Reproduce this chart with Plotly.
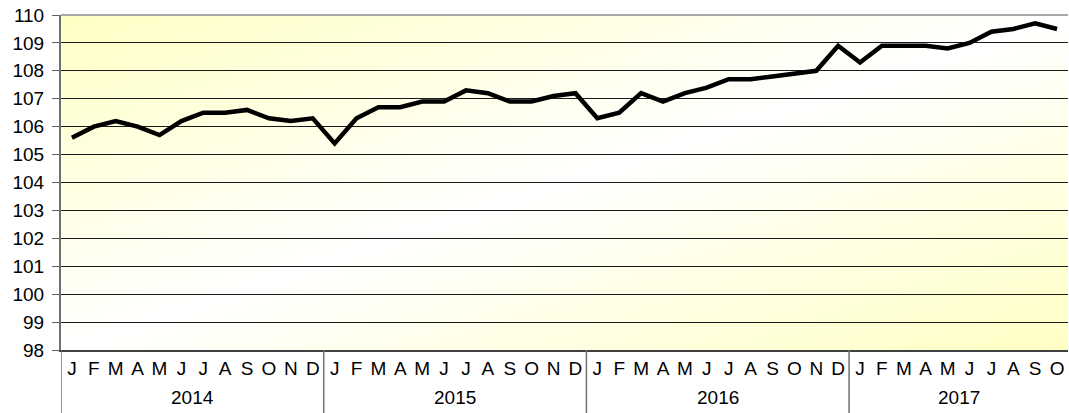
import base64
import plotly.graph_objects as go

years = ["2014", "2015", "2016", "2017"]
months = ["J", "F", "M", "A", "M", "J", "J", "A", "S", "O", "N", "D"]
months_per_year = [12, 12, 12, 10]

values = [
    105.6, 106.0, 106.2, 106.0, 105.7, 106.2, 106.5, 106.5, 106.6, 106.3, 106.2, 106.3,
    105.4, 106.3, 106.7, 106.7, 106.9, 106.9, 107.3, 107.2, 106.9, 106.9, 107.1, 107.2,
    106.3, 106.5, 107.2, 106.9, 107.2, 107.4, 107.7, 107.7, 107.8, 107.9, 108.0, 108.9,
    108.3, 108.9, 108.9, 108.9, 108.8, 109.0, 109.4, 109.5, 109.7, 109.5,
]

month_labels = []
for n in months_per_year:
    month_labels += months[:n]
xs = list(range(len(values)))

FONT = "Liberation Sans, Arial, sans-serif"

# diagonal yellow -> white -> yellow background
svg = ("<svg xmlns='http://www.w3.org/2000/svg' width='1008' height='335' preserveAspectRatio='none'>"
       "<defs><linearGradient id='g' x1='0' y1='0' x2='1' y2='1'>"
       "<stop offset='0' stop-color='#FFFFC4'/><stop offset='0.5' stop-color='#FFFFFF'/>"
       "<stop offset='1' stop-color='#FFFFC4'/></linearGradient></defs>"
       "<rect width='100%' height='100%' fill='url(#g)'/></svg>")
bg = "data:image/svg+xml;base64," + base64.b64encode(svg.encode()).decode()

fig = go.Figure(go.Scatter(x=xs, y=values, mode="lines",
                           line=dict(color="black", width=4.5), hoverinfo="skip"))

plot_h = 413 - 15 - 63
below = -63 / plot_h

shapes = []
start = 0
bounds = [-0.5]
for n in months_per_year:
    start += n
    bounds.append(start - 0.5)
for b in bounds[:-1]:
    shapes.append(dict(type="line", xref="x", yref="paper", x0=b, x1=b, y0=0, y1=below,
                       line=dict(color="#707070", width=1.5)))
# top border
shapes.append(dict(type="line", xref="paper", yref="paper", x0=0, x1=1, y0=1, y1=1,
                   line=dict(color="#A8A8A8", width=2)))

annotations = []
start = 0
for yr, n in zip(years, months_per_year):
    annotations.append(dict(x=start + (n - 1) / 2, y=-47 / plot_h, xref="x", yref="paper",
                            text=yr, showarrow=False, yanchor="middle",
                            font=dict(family=FONT, size=19, color="black")))
    start += n

fig.update_layout(
    width=1069, height=413,
    margin=dict(l=61, r=1, t=15, b=63),
    paper_bgcolor="white", plot_bgcolor="rgba(0,0,0,0)",
    showlegend=False,
    shapes=shapes, annotations=annotations,
    images=[dict(source=bg, xref="paper", yref="paper", x=0, y=1, sizex=1, sizey=1,
                 xanchor="left", yanchor="top", sizing="stretch", layer="below")],
    font=dict(family=FONT, size=19, color="black"),
)
fig.update_xaxes(range=[-0.5, len(values) - 0.5], tickvals=xs, ticktext=month_labels,
                 showgrid=False, zeroline=False, ticks="", showline=True, automargin=False,
                 linecolor="#404040", linewidth=1.5, ticklabelstandoff=0,
                 tickfont=dict(family=FONT, size=19))
fig.update_yaxes(range=[98, 110], dtick=1, showgrid=True, gridcolor="#1a1a1a", gridwidth=1,
                 zeroline=False, ticks="outside", ticklen=7, tickcolor="#606060",
                 showline=True, linecolor="#707070", linewidth=2, automargin=False,
                 ticklabelstandoff=4, tickfont=dict(family=FONT, size=19))

# page body margin would push the fixed-size figure off the window
fig.write_html("out.html", config={"displayModeBar": False},
               post_script="document.body.style.margin='0';")
